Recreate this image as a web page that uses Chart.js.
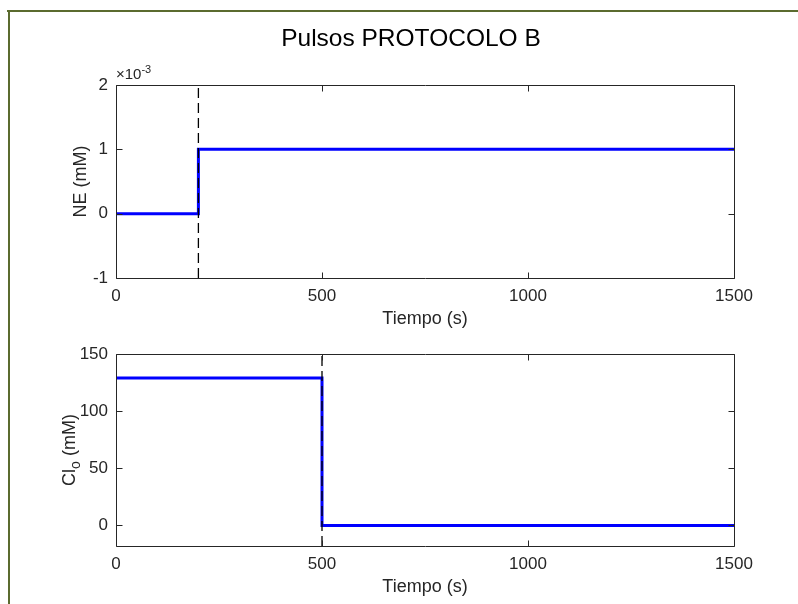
<!DOCTYPE html>
<html><head><meta charset="utf-8">
<script src="https://cdn.jsdelivr.net/npm/chart.js@4.4.1/dist/chart.umd.min.js"></script>
<style>
html,body{margin:0;padding:0;background:#fff;}
#wrap{position:relative;width:798px;height:604px;overflow:hidden;background:#fff;}
.frameTop{position:absolute;left:7px;top:10px;width:791px;height:2px;background:#5b6b2f;}
.frameLeft{position:absolute;left:8px;top:10px;width:2px;height:594px;background:#5b6b2f;}
#title{position:absolute;left:0;width:822px;top:24px;text-align:center;font:24.5px "Liberation Sans",Arial,sans-serif;color:#000;white-space:nowrap;}
#expo{position:absolute;left:116px;top:63px;font:15px "Liberation Sans",Arial,sans-serif;color:#262626;white-space:nowrap;}
#expo sup{font-size:11px;vertical-align:6px;}
#c1box{position:absolute;left:0;top:0;width:798px;height:335px;}
#c2box{position:absolute;left:0;top:335px;width:798px;height:269px;}
canvas{display:block;}
</style>
</head>
<body>
<div id="wrap">
  <div id="c1box"><canvas id="c1" width="798" height="335"></canvas></div>
  <div id="c2box"><canvas id="c2" width="798" height="269"></canvas></div>
  <div id="title">Pulsos PROTOCOLO B</div>
  <div id="expo">×10<sup>-3</sup></div>
  <div class="frameTop"></div>
  <div class="frameLeft"></div>
</div>
<script>
// ---- data ----
const timeNE   = [0, 200, 200, 1500];
const valuesNE = [0, 0, 0.001, 0.001];
const timeCl   = [0, 500, 500, 1500];
const valuesCl = [129, 129, 0, 0];
const markerNEx = [200, 200];
const markerNEy = [-0.001, 0.002];
const markerClx = [500, 500];
const markerCly = [-18, 150];
const xTicks   = [0, 500, 1000, 1500];
const yTicksNE = [-0.001, 0, 0.001, 0.002];
const yTicksCl = [0, 50, 100, 150];
const xRange   = [0, 1500];
const yRangeNE = [-0.001, 0.002];
const yRangeCl = [-18, 150];

const FONT = '"Liberation Sans", Arial, sans-serif';
const TXT = '#262626';
const TICK_SIZE = 17;
const LABEL_SIZE = 18;

function pts(xs, ys){ return xs.map((x,i)=>({x:x, y:ys[i]})); }

const framePlugin = {
  id: 'frame',
  afterDatasetsDraw(chart) {
    const {ctx, chartArea: a, scales: {x, y}} = chart;
    ctx.save();
    ctx.strokeStyle = TXT; ctx.lineWidth = 1;
    const L = Math.round(a.left)+0.5, R = Math.round(a.right)+0.5, T = Math.round(a.top)+0.5, B = Math.round(a.bottom)+0.5;
    ctx.beginPath();
    ctx.rect(L, T, R-L, B-T);
    const tl = 6;
    x.ticks.forEach(t => {
      const px = Math.round(x.getPixelForValue(t.value))+0.5;
      ctx.moveTo(px, B); ctx.lineTo(px, B-tl);
      ctx.moveTo(px, T); ctx.lineTo(px, T+tl);
    });
    y.ticks.forEach(t => {
      const py = Math.round(y.getPixelForValue(t.value))+0.5;
      ctx.moveTo(L, py); ctx.lineTo(L+tl, py);
      ctx.moveTo(R, py); ctx.lineTo(R-tl, py);
    });
    ctx.stroke();
    ctx.restore();
  }
};

const clLabelPlugin = {
  id: 'clLabel',
  afterDraw(chart) {
    const opts = chart.options.plugins.clLabel;
    if (!opts || !opts.display) return;
    const {ctx, chartArea: a} = chart;
    ctx.save();
    const cx = opts.x, cy = (a.top + a.bottom) / 2;
    ctx.translate(cx, cy);
    ctx.rotate(-Math.PI/2);
    ctx.fillStyle = TXT;
    ctx.textBaseline = 'middle';
    const f1 = LABEL_SIZE + 'px ' + FONT, f2 = '14px ' + FONT;
    ctx.font = f1; const w1 = ctx.measureText('Cl').width; const w3 = ctx.measureText(' (mM)').width;
    ctx.font = f2; const w2 = ctx.measureText('o').width;
    let sx = -(w1 + w2 + w3) / 2;
    ctx.font = f1; ctx.fillText('Cl', sx, 0); sx += w1;
    ctx.font = f2; ctx.fillText('o', sx, 6); sx += w2;
    ctx.font = f1; ctx.fillText(' (mM)', sx, 0);
    ctx.restore();
  }
};

function makeChart(id, opt) {
  return new Chart(document.getElementById(id), {
    type: 'line',
    data: {
      datasets: [
        { data: pts(opt.mx, opt.my), borderColor: '#000', borderWidth: 1.3, borderDash: [10,5], pointRadius: 0, tension: 0, fill: false },
        { data: pts(opt.tx, opt.vy), borderColor: '#0000ff', borderWidth: 3, pointRadius: 0, tension: 0, fill: false }
      ]
    },
    options: {
      responsive: false, animation: false, devicePixelRatio: 1,
      layout: { padding: opt.padding },
      plugins: { legend: {display:false}, tooltip: {enabled:false}, title: {display:false},
                 clLabel: { display: !!opt.clLabel, x: 70 } },
      scales: {
        x: {
          type: 'linear', min: xRange[0], max: xRange[1],
          afterBuildTicks: s => { s.ticks = xTicks.map(v => ({value: v})); },
          afterFit: s => { s.height = opt.xh; },
          grid: { display: false, drawTicks: false },
          border: { display: false },
          ticks: { color: TXT, font: {family: FONT, size: TICK_SIZE}, padding: 8, maxRotation: 0, autoSkip: false,
                   callback: v => String(v) },
          title: { display: true, text: 'Tiempo (s)', color: TXT, font: {family: FONT, size: LABEL_SIZE}, padding: 0 }
        },
        y: {
          type: 'linear', min: opt.yr[0], max: opt.yr[1],
          afterBuildTicks: s => { s.ticks = opt.yt.map(v => ({value: v})); },
          afterFit: s => { s.width = opt.yw; },
          grid: { display: false, drawTicks: false },
          border: { display: false },
          ticks: { color: TXT, font: {family: FONT, size: TICK_SIZE}, padding: 8, autoSkip: false,
                   callback: opt.ycb },
          title: { display: !opt.clLabel, text: opt.ytitle || '', color: TXT, font: {family: FONT, size: LABEL_SIZE}, padding: 0 }
        }
      }
    },
    plugins: [framePlugin, clLabelPlugin]
  });
}

makeChart('c1', {
  mx: markerNEx, my: markerNEy, tx: timeNE, vy: valuesNE,
  yr: yRangeNE, yt: yTicksNE, ytitle: 'NE (mM)',
  ycb: v => String(Math.round(v * 1000)),
  padding: {left: 70, right: 64, top: 85, bottom: 5},
  yw: 46, xh: 52
});
makeChart('c2', {
  mx: markerClx, my: markerCly, tx: timeCl, vy: valuesCl,
  yr: yRangeCl, yt: yTicksCl, clLabel: true,
  ycb: v => String(v),
  padding: {left: 70, right: 64, top: 19, bottom: 6},
  yw: 46, xh: 52
});
</script>
</body></html>
